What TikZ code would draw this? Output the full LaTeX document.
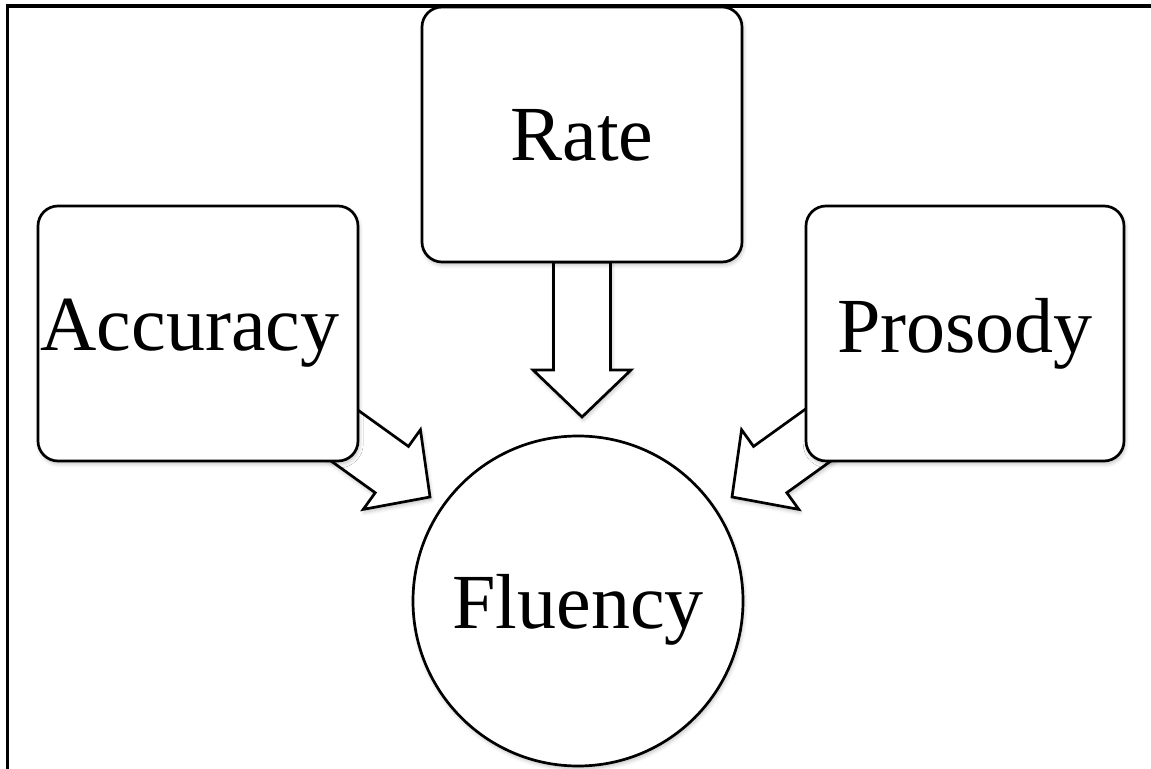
\documentclass[tikz,border=0pt]{standalone}
\usepackage{fontspec}
\setmainfont{Liberation Serif}
\usetikzlibrary{shadows.blur}
\newcommand\myblockarrow[3]{%
  \draw[blockarrow, shift={(#1)}, rotate=#2]
    (0,0) -- (-47,49) -- (-47,28.5) -- (-#3,28.5) -- (-#3,-28.5)
    -- (-47,-28.5) -- (-47,-49) -- cycle;}
\begin{document}
\begin{tikzpicture}[x=0.5pt,y=-0.5pt,
  softshadow/.style={blur shadow={shadow blur steps=6, shadow xshift=0.6pt,
      shadow yshift=-1.4pt, shadow opacity=25, shadow blur radius=2pt}},
  box/.style={draw, line width=1.35pt, fill=white, rounded corners=10pt,
      minimum width=160pt, minimum height=127.5pt, inner sep=0pt,
      font=\fontsize{39}{44}\selectfont, softshadow},
  roundnode/.style={circle, draw, line width=1.35pt, fill=white,
      minimum size=165pt, inner sep=0pt,
      font=\fontsize{39}{44}\selectfont, softshadow},
  blockarrow/.style={draw, line width=1.35pt, fill=white, line join=miter,
      softshadow},
  frameline/.style={draw, line width=1.6pt}]
\useasboundingbox (0,0) rectangle (1151,769);
% named anchor points for the block arrows
\coordinate (tipR) at (582,417);
\coordinate (tipA) at (430,497);
\coordinate (tipP) at (732,497);
% block arrows (drawn first; boxes cover their bases)
\myblockarrow{tipR}{-90}{155}
\myblockarrow{tipA}{-35.7}{130}
\myblockarrow{tipP}{-144.3}{130}
% nodes
\node[box, text depth=-5pt] (rate) at (582,134.5) {Rate};
\node[box] (acc) at (198,333.5) {\hspace*{-8pt}Accuracy};
\node[box, minimum width=159pt] (pro) at (965,333.5) {Prosody};
\node[roundnode, text depth=-7pt] (flu) at (578,601) {Fluency};
% frame (left and top edges)
\coordinate (frameBL) at (7.5,780);
\coordinate (frameTL) at (7.5,6);
\coordinate (frameTR) at (1160,6);
\draw[frameline] (frameBL) -- (frameTL) -- (frameTR);
\end{tikzpicture}
\end{document}
